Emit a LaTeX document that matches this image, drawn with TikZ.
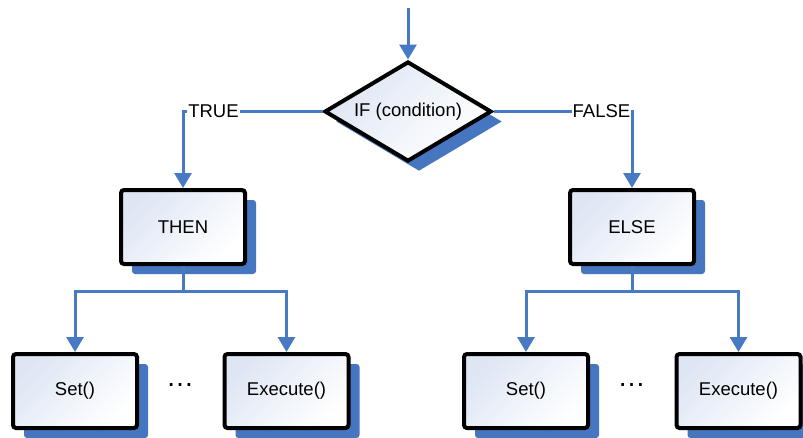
\documentclass[tikz,border=0pt]{standalone}
\usepackage{fontspec}
\setmainfont{Liberation Sans}
\usetikzlibrary{shapes.geometric,shadows,arrows.meta}
\definecolor{flowblue}{RGB}{72,122,196}
\definecolor{shadowblue}{RGB}{70,118,192}
\definecolor{paleblue}{RGB}{222,230,244}
\tikzset{
  labelfont/.style={font=\fontsize{18.5}{22}\selectfont},
  filled/.style={draw=black, line width=4pt, left color=paleblue, right color=white,
    shading angle=45, labelfont, inner sep=0pt,
    drop shadow={shadow xshift=11pt, shadow yshift=-10pt, fill=shadowblue, opacity=1}},
  stepbox/.style={filled, rectangle, rounded corners=3pt, minimum width=124pt, minimum height=74pt},
  decision/.style={filled, diamond, aspect=1.7, minimum width=167pt, minimum height=100pt},
  branchlabel/.style={labelfont, fill=white, inner sep=1pt},
  ellipsisdots/.style={font=\fontsize{28}{32}\selectfont, inner sep=0pt},
  flowline/.style={draw=flowblue, line width=3pt},
  flow/.style={flowline, -{Triangle[length=15pt, width=17pt]}}
}
\begin{document}
\begin{tikzpicture}[x=1pt, y=-1pt]
  \useasboundingbox (0,0) rectangle (803,437);

  % decision and the two branches
  \node[decision] (if) at (408,111.5) {IF (condition)};
  \node[stepbox] (then) at (183,227) {THEN};
  \node[stepbox] (else) at (632,227) {ELSE};

  % calls under each branch
  \node[stepbox] (setl)  at (75,391)    {Set()};
  \node[stepbox] (execl) at (286.5,391) {Execute()};
  \node[stepbox] (setr)  at (526,391)   {Set()};
  \node[stepbox] (execr) at (738.5,391) {Execute()};

  % entry arrow
  \coordinate (entry) at (408,8);
  \draw[flow] (entry) -- (if.north);

  % branch connectors
  \draw[flow] (if.west) -| (then.north);
  \draw[flow] (if.east) -| (else.north);

  % fan-out to the calls
  \coordinate (jl) at (183,291);
  \coordinate (jr) at (632,291);
  \draw[flowline] (then.south) -- (jl);
  \draw[flow] (jl) -| (setl.north);
  \draw[flow] (jl) -| (execl.north);
  \draw[flowline] (else.south) -- (jr);
  \draw[flow] (jr) -| (setr.north);
  \draw[flow] (jr) -| (execr.north);

  % branch labels
  \node[branchlabel] (truelbl)  at (213.5,111.5) {TRUE};
  \node[branchlabel] (falselbl) at (601.5,111.5) {FALSE};

  % ellipses between calls
  \node[ellipsisdots] (dotsl) at (180,385) {…};
  \node[ellipsisdots] (dotsr) at (631.5,385) {…};
\end{tikzpicture}
\end{document}
